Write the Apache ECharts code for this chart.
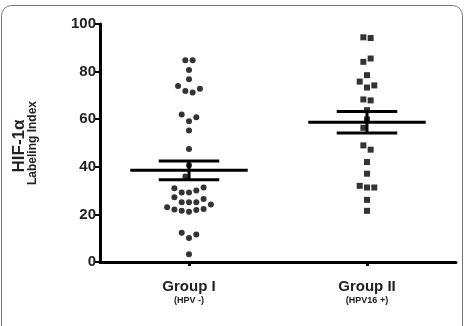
<!DOCTYPE html>
<html>
<head>
<meta charset="utf-8">
<script src="https://cdn.jsdelivr.net/npm/echarts@6/dist/echarts.min.js"></script>
<style>
  html, body { margin: 0; padding: 0; background: #fff; }
  #chart { width: 465px; height: 326px; }
</style>
</head>
<body>
<div id="chart"></div>
<script>
// group labels
const groupNames = ["Group I", "Group II"];
const groupSub = ["(HPV -)", "(HPV16 +)"];
const groupPos = [0.5, 1.5];

// Group I (circles): labeling index, and beeswarm column (in dot widths)
const g1Values = [84.8, 84.8, 80.7, 76.8, 73.9, 71.8, 71.2, 72.8, 62.0, 59.1, 60.8, 55.2, 47.5,
  40.6, 35.9,
  31.0, 29.2, 29.2, 30.0, 31.3,
  27.2, 25.1, 25.1, 25.1, 26.5,
  23.0, 22.1, 21.5, 21.1, 21.8, 22.3, 24.2,
  12.3, 10.1, 11.6, 3.3];
const g1Cols = [-0.5, 0.5, 0, 0, -1.5, -0.5, 0.5, 1.5, -1, 0, 1, 0, 0,
  0, -0.5,
  -2, -1, 0, 1, 2,
  -2, -1, 0, 1, 2,
  -3, -2, -1, 0, 1, 2, 3,
  -1, 0, 1, 0];

// Group II (squares)
const g2Values = [94.4, 94.1, 84.1, 85.5, 78.5, 75.8, 73.3, 74.2, 68.3, 67.9,
  63.8, 59.9, 56.4,
  49.0, 47.2, 42.0, 37.1, 32.0, 31.3, 31.3, 26.1, 21.5];
const g2Cols = [-0.5, 0.5, -0.5, 0.5, 0, -1, 0, 1, -0.5, 0.5,
  0, 0, -0.5,
  -0.5, 0.5, 0, 0, -1, 0, 1, 0, 0];

// mean and SEM
const means = [38.5, 58.7];
const sems = [3.9, 4.5];

const step = 0.041; // one dot width in x units

const chart = echarts.init(document.getElementById("chart"));

const swarm = (vals, cols, center) => vals.map((v, i) => [center + cols[i] * step, v]);

const option = {
  animation: false,
  backgroundColor: "#fff",
  grid: { left: 100, right: 9, top: 24, bottom: 64 },
  xAxis: {
    type: "value",
    min: 0,
    max: 2,
    splitLine: { show: false },
    axisLine: { show: true, lineStyle: { color: "#000", width: 3 } },
    axisTick: { show: true, customValues: groupPos, length: 4, lineStyle: { color: "#000", width: 3 } },
    axisLabel: {
      customValues: groupPos,
      margin: 17,
      formatter: function (v) {
        const i = v < 1 ? 0 : 1;
        return "{a|" + groupNames[i] + "}\n{b|" + groupSub[i] + "}";
      },
      rich: {
        a: { fontFamily: "Liberation Sans, Arial", fontWeight: "bold", fontSize: 15, color: "#222", lineHeight: 16 },
        b: { fontFamily: "Liberation Sans, Arial", fontWeight: "bold", fontSize: 9, color: "#222", lineHeight: 12 }
      }
    }
  },
  yAxis: {
    type: "value",
    min: 0,
    max: 100,
    interval: 20,
    splitLine: { show: false },
    axisLine: { show: true, lineStyle: { color: "#000", width: 3 } },
    axisTick: { show: true, length: 5, lineStyle: { color: "#000", width: 2 } },
    axisLabel: {
      fontFamily: "Liberation Sans, Arial",
      fontWeight: "bold",
      fontSize: 15,
      color: "#222",
      margin: 4
    }
  },
  graphic: [
    {
      type: "rect",
      shape: { x: 1.5, y: 5.5, width: 461, height: 340, r: 10 },
      style: { fill: "none", stroke: "#777", lineWidth: 1 },
      silent: true
    },
    {
      type: "text",
      x: 11, y: 146, rotation: Math.PI / 2,
      style: {
        text: "HIF-1α", fontFamily: "Liberation Sans, Arial", fontWeight: "bold",
        fontSize: 17, fill: "#222", align: "center", verticalAlign: "top"
      }
    },
    {
      type: "text",
      x: 27, y: 143, rotation: Math.PI / 2,
      style: {
        text: "Labeling Index", fontFamily: "Liberation Sans, Arial", fontWeight: "bold",
        fontSize: 12, fill: "#222", align: "center", verticalAlign: "top"
      }
    }
  ],
  series: [
    {
      type: "scatter",
      symbol: "circle",
      symbolSize: 6,
      itemStyle: { color: "#000" },
      data: swarm(g1Values, g1Cols, groupPos[0])
    },
    {
      type: "scatter",
      symbol: "rect",
      symbolSize: 6,
      itemStyle: { color: "#000" },
      data: swarm(g2Values, g2Cols, groupPos[1])
    },
    {
      type: "custom",
      z: 5,
      data: groupPos.map((p, i) => [p, means[i], sems[i]]),
      renderItem: function (params, api) {
        const x = api.value(0), m = api.value(1), s = api.value(2);
        const c = api.coord([x, m]);
        const hi = api.coord([x, m + s]);
        const lo = api.coord([x, m - s]);
        const w = api.size([0.33, 0])[0];
        const cw = api.size([0.17, 0])[0];
        const st = { stroke: "#000", lineWidth: 3 };
        return {
          type: "group",
          children: [
            { type: "line", shape: { x1: c[0] - w, y1: c[1], x2: c[0] + w, y2: c[1] }, style: st },
            { type: "line", shape: { x1: c[0] - cw, y1: hi[1], x2: c[0] + cw, y2: hi[1] }, style: st },
            { type: "line", shape: { x1: c[0] - cw, y1: lo[1], x2: c[0] + cw, y2: lo[1] }, style: st },
            { type: "line", shape: { x1: c[0], y1: hi[1], x2: c[0], y2: lo[1] }, style: st }
          ]
        };
      }
    }
  ]
};

chart.setOption(option);
</script>
</body>
</html>
